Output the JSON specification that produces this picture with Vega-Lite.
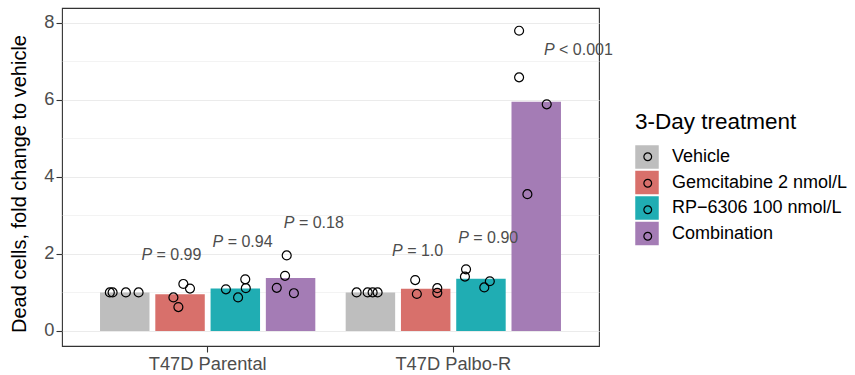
{
  "$schema": "https://vega.github.io/schema/vega-lite/v6.json",
  "width": 537,
  "height": 338,
  "autosize": {"type": "none"},
  "padding": {"left": 62, "top": 8, "right": 256, "bottom": 29},
  "background": "white",
  "config": {
    "font": "Liberation Sans",
    "view": {"stroke": "#333333", "strokeWidth": 1.1},
    "axis": {"labelFont": "Liberation Sans", "titleFont": "Liberation Sans"},
    "legend": {"labelFont": "Liberation Sans", "titleFont": "Liberation Sans"}
  },
  "datasets": {
    "points": [
      {"cell": "T47D Parental", "treatment": "Vehicle", "value": 1.0, "pos": 0.23},
      {"cell": "T47D Parental", "treatment": "Vehicle", "value": 1.0, "pos": 0.28},
      {"cell": "T47D Parental", "treatment": "Vehicle", "value": 1.0, "pos": 0.52},
      {"cell": "T47D Parental", "treatment": "Vehicle", "value": 1.0, "pos": 0.75},
      {"cell": "T47D Parental", "treatment": "Gemcitabine 2 nmol/L", "value": 1.22, "pos": 1.56},
      {"cell": "T47D Parental", "treatment": "Gemcitabine 2 nmol/L", "value": 1.10, "pos": 1.68},
      {"cell": "T47D Parental", "treatment": "Gemcitabine 2 nmol/L", "value": 0.87, "pos": 1.38},
      {"cell": "T47D Parental", "treatment": "Gemcitabine 2 nmol/L", "value": 0.62, "pos": 1.47},
      {"cell": "T47D Parental", "treatment": "RP−6306 100 nmol/L", "value": 1.08, "pos": 2.33},
      {"cell": "T47D Parental", "treatment": "RP−6306 100 nmol/L", "value": 1.34, "pos": 2.68},
      {"cell": "T47D Parental", "treatment": "RP−6306 100 nmol/L", "value": 1.11, "pos": 2.69},
      {"cell": "T47D Parental", "treatment": "RP−6306 100 nmol/L", "value": 0.87, "pos": 2.55},
      {"cell": "T47D Parental", "treatment": "Combination", "value": 1.96, "pos": 3.43},
      {"cell": "T47D Parental", "treatment": "Combination", "value": 1.43, "pos": 3.40},
      {"cell": "T47D Parental", "treatment": "Combination", "value": 1.12, "pos": 3.25},
      {"cell": "T47D Parental", "treatment": "Combination", "value": 0.98, "pos": 3.56},
      {"cell": "T47D Palbo-R", "treatment": "Vehicle", "value": 1.0, "pos": 0.25},
      {"cell": "T47D Palbo-R", "treatment": "Vehicle", "value": 1.0, "pos": 0.45},
      {"cell": "T47D Palbo-R", "treatment": "Vehicle", "value": 1.0, "pos": 0.54},
      {"cell": "T47D Palbo-R", "treatment": "Vehicle", "value": 1.0, "pos": 0.63},
      {"cell": "T47D Palbo-R", "treatment": "Gemcitabine 2 nmol/L", "value": 1.32, "pos": 1.31},
      {"cell": "T47D Palbo-R", "treatment": "Gemcitabine 2 nmol/L", "value": 0.96, "pos": 1.34},
      {"cell": "T47D Palbo-R", "treatment": "Gemcitabine 2 nmol/L", "value": 1.11, "pos": 1.71},
      {"cell": "T47D Palbo-R", "treatment": "Gemcitabine 2 nmol/L", "value": 0.99, "pos": 1.71},
      {"cell": "T47D Palbo-R", "treatment": "RP−6306 100 nmol/L", "value": 1.60, "pos": 2.23},
      {"cell": "T47D Palbo-R", "treatment": "RP−6306 100 nmol/L", "value": 1.41, "pos": 2.21},
      {"cell": "T47D Palbo-R", "treatment": "RP−6306 100 nmol/L", "value": 1.29, "pos": 2.66},
      {"cell": "T47D Palbo-R", "treatment": "RP−6306 100 nmol/L", "value": 1.13, "pos": 2.56},
      {"cell": "T47D Palbo-R", "treatment": "Combination", "value": 7.79, "pos": 3.19},
      {"cell": "T47D Palbo-R", "treatment": "Combination", "value": 6.58, "pos": 3.19},
      {"cell": "T47D Palbo-R", "treatment": "Combination", "value": 5.88, "pos": 3.69},
      {"cell": "T47D Palbo-R", "treatment": "Combination", "value": 3.55, "pos": 3.34}
    ],
    "labels": [
      {"cell": "T47D Parental", "treatment": "Gemcitabine 2 nmol/L", "y": 1.97, "rest": "= 0.99"},
      {"cell": "T47D Parental", "treatment": "RP−6306 100 nmol/L", "y": 2.32, "rest": "= 0.94"},
      {"cell": "T47D Parental", "treatment": "Combination", "y": 2.79, "rest": "= 0.18"},
      {"cell": "T47D Palbo-R", "treatment": "Gemcitabine 2 nmol/L", "y": 2.08, "rest": "= 1.0"},
      {"cell": "T47D Palbo-R", "treatment": "RP−6306 100 nmol/L", "y": 2.40, "rest": "= 0.90"},
      {"cell": "T47D Palbo-R", "treatment": "Combination", "y": 7.30, "rest": "< 0.001"}
    ]
  },
  "layer": [
    {
      "data": {"name": "points"},
      "mark": {"type": "bar", "strokeWidth": 0},
      "encoding": {
        "x": {"field": "cell", "type": "nominal", "sort": ["T47D Parental", "T47D Palbo-R"],
          "scale": {"paddingInner": 0.1, "paddingOuter": 0.143},
          "axis": {"title": null, "labelAngle": 0, "labelFontSize": 18.3, "labelColor": "#4D4D4D", "labelPadding": 3, "tickColor": "#333333", "tickSize": 6, "tickWidth": 1.1, "domain": false, "grid": false}},
        "xOffset": {"field": "treatment", "type": "nominal",
          "scale": {"domain": ["Vehicle", "Gemcitabine 2 nmol/L", "RP−6306 100 nmol/L", "Combination"], "paddingInner": 0.105, "paddingOuter": 0.0525}},
        "y": {"aggregate": "mean", "field": "value", "type": "quantitative",
          "scale": {"domain": [-0.39, 8.38], "nice": false, "zero": false},
          "axis": {"values": [0, 1, 2, 3, 4, 5, 6, 7, 8], "grid": true, "gridColor": "#EBEBEB",
            "gridWidth": {"condition": {"test": "datum.value % 2 === 1", "value": 0.6}, "value": 1.1},
            "tickOpacity": {"condition": {"test": "datum.value % 2 === 1", "value": 0}, "value": 1},
            "labelExpr": "datum.value % 2 === 1 ? '' : datum.label",
            "domain": false, "tickColor": "#333333", "tickSize": 6, "tickWidth": 1.1, "labelPadding": 2, "labelFontSize": 18.3, "labelColor": "#4D4D4D", "title": "Dead cells, fold change to vehicle", "titleFontSize": 20, "titleFontWeight": "normal", "titleColor": "black", "titleAngle": 270, "titleX": -37, "titleY": 175.5, "titleAlign": "center", "titleBaseline": "alphabetic"}},
        "y2": {"datum": 0},
        "color": {"field": "treatment", "type": "nominal",
          "scale": {"domain": ["Vehicle", "Gemcitabine 2 nmol/L", "RP−6306 100 nmol/L", "Combination"], "range": ["#BEBEBE", "#D8706B", "#20ADB3", "#A47CB5"]},
          "legend": {"orient": "none", "legendX": 573, "legendY": 102.5, "padding": 0, "title": "3-Day treatment", "titleFontSize": 22.5, "titleFontWeight": "normal", "titleColor": "black", "titlePadding": 12, "symbolType": "square", "symbolSize": 552, "symbolStrokeWidth": 0, "symbolOpacity": 1, "labelFontSize": 18, "labelColor": "black", "labelOffset": 13, "labelLimit": 0, "rowPadding": 1.5}}
      }
    },
    {
      "data": {"name": "points"},
      "mark": {"type": "point", "filled": false, "color": "black", "strokeWidth": 1.2, "size": 80, "opacity": 1},
      "encoding": {
        "x": {"field": "cell", "type": "nominal", "sort": ["T47D Parental", "T47D Palbo-R"]},
        "xOffset": {"field": "pos", "type": "quantitative", "scale": {"domain": [0, 4], "nice": false, "zero": false}},
        "y": {"field": "value", "type": "quantitative"},
        "shape": {"field": "treatment", "type": "nominal",
          "scale": {"range": ["circle", "circle", "circle", "circle"]},
          "legend": {"orient": "none", "legendX": 574, "legendY": 137, "padding": 0, "title": null, "labelExpr": "''", "labelFontSize": 23.5, "symbolType": "circle", "symbolSize": 60, "symbolStrokeColor": "black", "symbolFillColor": "transparent", "symbolStrokeWidth": 1.2, "rowPadding": 1.5}}
      }
    },
    {
      "data": {"name": "labels"},
      "transform": [{"filter": "datum.rest !== '= 1.0' && datum.rest !== '< 0.001'"}],
      "mark": {"type": "text", "text": "P", "fontStyle": "italic", "align": "right", "baseline": "middle", "dx": -20, "fontSize": 16, "color": "#4D4D4D"},
      "encoding": {
        "x": {"field": "cell", "type": "nominal", "sort": ["T47D Parental", "T47D Palbo-R"]},
        "xOffset": {"field": "treatment", "type": "nominal", "scale": {"domain": ["Vehicle", "Gemcitabine 2 nmol/L", "RP−6306 100 nmol/L", "Combination"], "paddingInner": 0.105, "paddingOuter": 0.0525}},
        "y": {"field": "y", "type": "quantitative"}
      }
    },
    {
      "data": {"name": "labels"},
      "transform": [{"filter": "datum.rest !== '= 1.0' && datum.rest !== '< 0.001'"}],
      "mark": {"type": "text", "align": "left", "baseline": "middle", "dx": -15.6, "fontSize": 16, "color": "#4D4D4D"},
      "encoding": {
        "x": {"field": "cell", "type": "nominal", "sort": ["T47D Parental", "T47D Palbo-R"]},
        "xOffset": {"field": "treatment", "type": "nominal", "scale": {"domain": ["Vehicle", "Gemcitabine 2 nmol/L", "RP−6306 100 nmol/L", "Combination"], "paddingInner": 0.105, "paddingOuter": 0.0525}},
        "y": {"field": "y", "type": "quantitative"},
        "text": {"field": "rest"}
      }
    },
    {
      "data": {"name": "labels"},
      "transform": [{"filter": "datum.rest === '= 1.0'"}],
      "mark": {"type": "text", "text": "P", "fontStyle": "italic", "align": "right", "baseline": "middle", "dx": -15, "fontSize": 16, "color": "#4D4D4D"},
      "encoding": {
        "x": {"field": "cell", "type": "nominal", "sort": ["T47D Parental", "T47D Palbo-R"]},
        "xOffset": {"field": "treatment", "type": "nominal", "scale": {"domain": ["Vehicle", "Gemcitabine 2 nmol/L", "RP−6306 100 nmol/L", "Combination"], "paddingInner": 0.105, "paddingOuter": 0.0525}},
        "y": {"field": "y", "type": "quantitative"}
      }
    },
    {
      "data": {"name": "labels"},
      "transform": [{"filter": "datum.rest === '= 1.0'"}],
      "mark": {"type": "text", "align": "left", "baseline": "middle", "dx": -10.6, "fontSize": 16, "color": "#4D4D4D"},
      "encoding": {
        "x": {"field": "cell", "type": "nominal", "sort": ["T47D Parental", "T47D Palbo-R"]},
        "xOffset": {"field": "treatment", "type": "nominal", "scale": {"domain": ["Vehicle", "Gemcitabine 2 nmol/L", "RP−6306 100 nmol/L", "Combination"], "paddingInner": 0.105, "paddingOuter": 0.0525}},
        "y": {"field": "y", "type": "quantitative"},
        "text": {"field": "rest"}
      }
    },
    {
      "data": {"name": "labels"},
      "transform": [{"filter": "datum.rest === '< 0.001'"}],
      "mark": {"type": "text", "text": "P", "fontStyle": "italic", "align": "right", "baseline": "middle", "dx": -5.5, "fontSize": 16, "color": "#4D4D4D"},
      "encoding": {
        "x": {"field": "cell", "type": "nominal", "sort": ["T47D Parental", "T47D Palbo-R"]},
        "xOffset": {"field": "treatment", "type": "nominal", "scale": {"domain": ["Vehicle", "Gemcitabine 2 nmol/L", "RP−6306 100 nmol/L", "Combination"], "paddingInner": 0.105, "paddingOuter": 0.0525}},
        "y": {"field": "y", "type": "quantitative"}
      }
    },
    {
      "data": {"name": "labels"},
      "transform": [{"filter": "datum.rest === '< 0.001'"}],
      "mark": {"type": "text", "align": "left", "baseline": "middle", "dx": -1.1, "fontSize": 16, "color": "#4D4D4D"},
      "encoding": {
        "x": {"field": "cell", "type": "nominal", "sort": ["T47D Parental", "T47D Palbo-R"]},
        "xOffset": {"field": "treatment", "type": "nominal", "scale": {"domain": ["Vehicle", "Gemcitabine 2 nmol/L", "RP−6306 100 nmol/L", "Combination"], "paddingInner": 0.105, "paddingOuter": 0.0525}},
        "y": {"field": "y", "type": "quantitative"},
        "text": {"field": "rest"}
      }
    }
  ],
  "resolve": {"scale": {"xOffset": "independent"}}
}
